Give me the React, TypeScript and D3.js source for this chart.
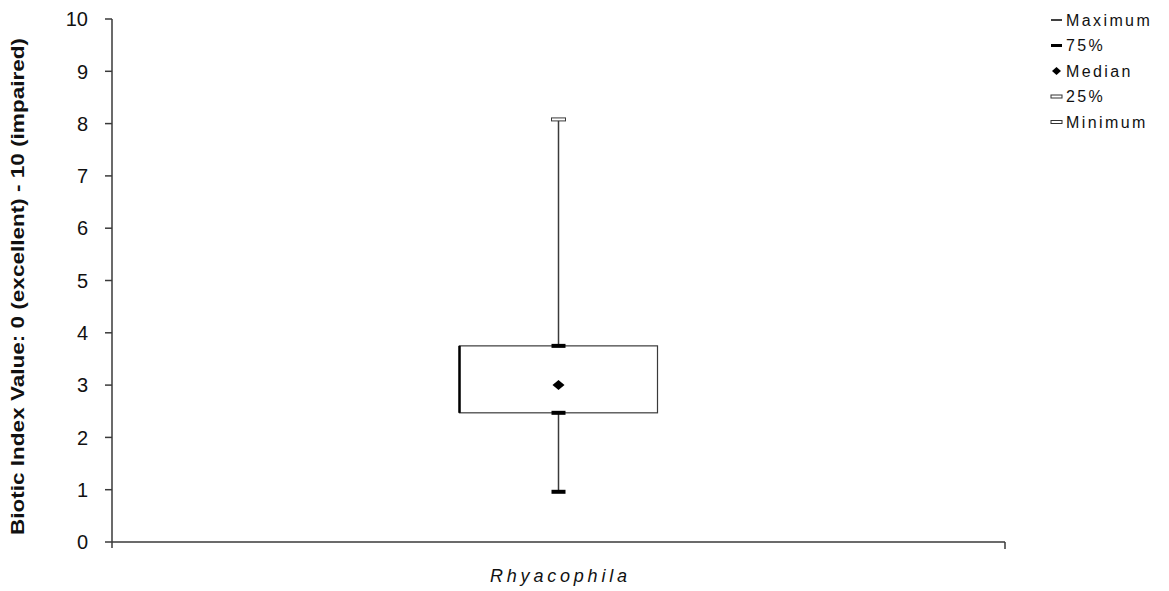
import React from "react";
import * as d3 from "d3";

const categories = ["Rhyacophila"];
const maximum = [8.08];
const q3 = [3.75];
const median = [3.0];
const q1 = [2.47];
const minimum = [0.96];
const yTicks = [0, 1, 2, 3, 4, 5, 6, 7, 8, 9, 10];
const legendLabels = ["Maximum", "75%", "Median", "25%", "Minimum"];
const yTitle = "Biotic Index Value: 0 (excellent) - 10 (impaired)";

const W = 1169;
const H = 591;
const AX = "#3a3a3a";

export default function App() {
  const y = d3.scaleLinear().domain([0, 10]).range([542, 19]);
  const x = d3.scaleBand<string>().domain(categories).range([112, 1005]);
  const boxHalf = 99;
  const capHalf = 7;

  return (
    <svg
      width={W}
      height={H}
      style={{ position: "absolute", left: 0, top: 0, background: "#fff" }}
      fontFamily="Arial, 'Liberation Sans', sans-serif"
    >
      {/* y axis */}
      <line x1={112} x2={112} y1={y(10)} y2={y(0) + 6} stroke={AX} strokeWidth={1.5} />
      {yTicks.map((t) => (
        <g key={t}>
          <line x1={105} x2={112} y1={y(t)} y2={y(t)} stroke={AX} strokeWidth={1.5} />
          <text x={88} y={y(t)} dy="0.36em" textAnchor="end" fontSize={20} fill="#111">
            {t}
          </text>
        </g>
      ))}
      {/* x axis */}
      <line x1={112} x2={1005} y1={y(0)} y2={y(0)} stroke={AX} strokeWidth={1.5} />
      <line x1={1005} x2={1005} y1={y(0)} y2={y(0) + 7} stroke={AX} strokeWidth={1.5} />
      <text
        x={17}
        y={(38 + 535) / 2}
        transform={`rotate(-90, 17, ${(38 + 535) / 2})`}
        textAnchor="middle"
        dy="0.35em"
        fontWeight="bold"
        fontSize={19}
        textLength={497}
        lengthAdjust="spacingAndGlyphs"
        fill="#111"
      >
        {yTitle}
      </text>

      {categories.map((c, i) => {
        const cx = (x(c) as number) + x.bandwidth() / 2;
        return (
          <g key={c}>
            {/* whiskers */}
            <line x1={cx} x2={cx} y1={y(maximum[i])} y2={y(q3[i])} stroke={AX} strokeWidth={1.5} />
            <line x1={cx} x2={cx} y1={y(q1[i])} y2={y(minimum[i])} stroke={AX} strokeWidth={1.5} />
            {/* box */}
            <rect
              x={cx - boxHalf}
              y={y(q3[i])}
              width={boxHalf * 2}
              height={y(q1[i]) - y(q3[i])}
              fill="#fff"
              stroke={AX}
              strokeWidth={1.2}
            />
            <line x1={cx - boxHalf} x2={cx - boxHalf} y1={y(q3[i])} y2={y(q1[i])} stroke="#000" strokeWidth={2.5} />
            {/* max cap hollow */}
            <rect x={cx - capHalf} y={y(maximum[i]) - 1.5} width={capHalf * 2} height={3} fill="#fff" stroke={AX} strokeWidth={1} />
            {/* q3 cap */}
            <rect x={cx - capHalf} y={y(q3[i]) - 2} width={capHalf * 2} height={4} fill="#000" />
            {/* q1 cap */}
            <rect x={cx - capHalf} y={y(q1[i]) - 2} width={capHalf * 2} height={4} fill="#000" />
            {/* min cap */}
            <rect x={cx - capHalf} y={y(minimum[i]) - 2} width={capHalf * 2} height={4} fill="#000" />
            {/* median */}
            <path
              d={`M${cx - 6},${y(median[i])} L${cx},${y(median[i]) - 5} L${cx + 6},${y(median[i])} L${cx},${y(median[i]) + 5} Z`}
              fill="#000"
            />
            <text
              x={cx}
              y={582}
              textAnchor="middle"
              fontStyle="italic"
              fontSize={18}
              textLength={137}
              lengthAdjust="spacing"
              fill="#111"
            >
              {c}
            </text>
          </g>
        );
      })}

      {/* legend */}
      {legendLabels.map((l, i) => {
        const ly = 20 + i * 25.5;
        let marker: React.ReactNode = null;
        if (i === 0) marker = <line x1={1051} x2={1062} y1={ly} y2={ly} stroke="#000" strokeWidth={1.5} />;
        if (i === 1) marker = <rect x={1051} y={ly - 1.5} width={11} height={3} fill="#000" />;
        if (i === 2)
          marker = <path d={`M${1052},${ly} L${1056.5},${ly - 4} L${1061},${ly} L${1056.5},${ly + 4} Z`} fill="#000" />;
        if (i >= 3) marker = <rect x={1051} y={ly - 1.5} width={11} height={3} fill="#fff" stroke="#333" strokeWidth={1} />;
        return (
          <g key={l}>
            {marker}
            <text x={1066} y={ly} dy="0.36em" fontSize={16} fill="#111" letterSpacing={2.4}>
              {l}
            </text>
          </g>
        );
      })}
    </svg>
  );
}
